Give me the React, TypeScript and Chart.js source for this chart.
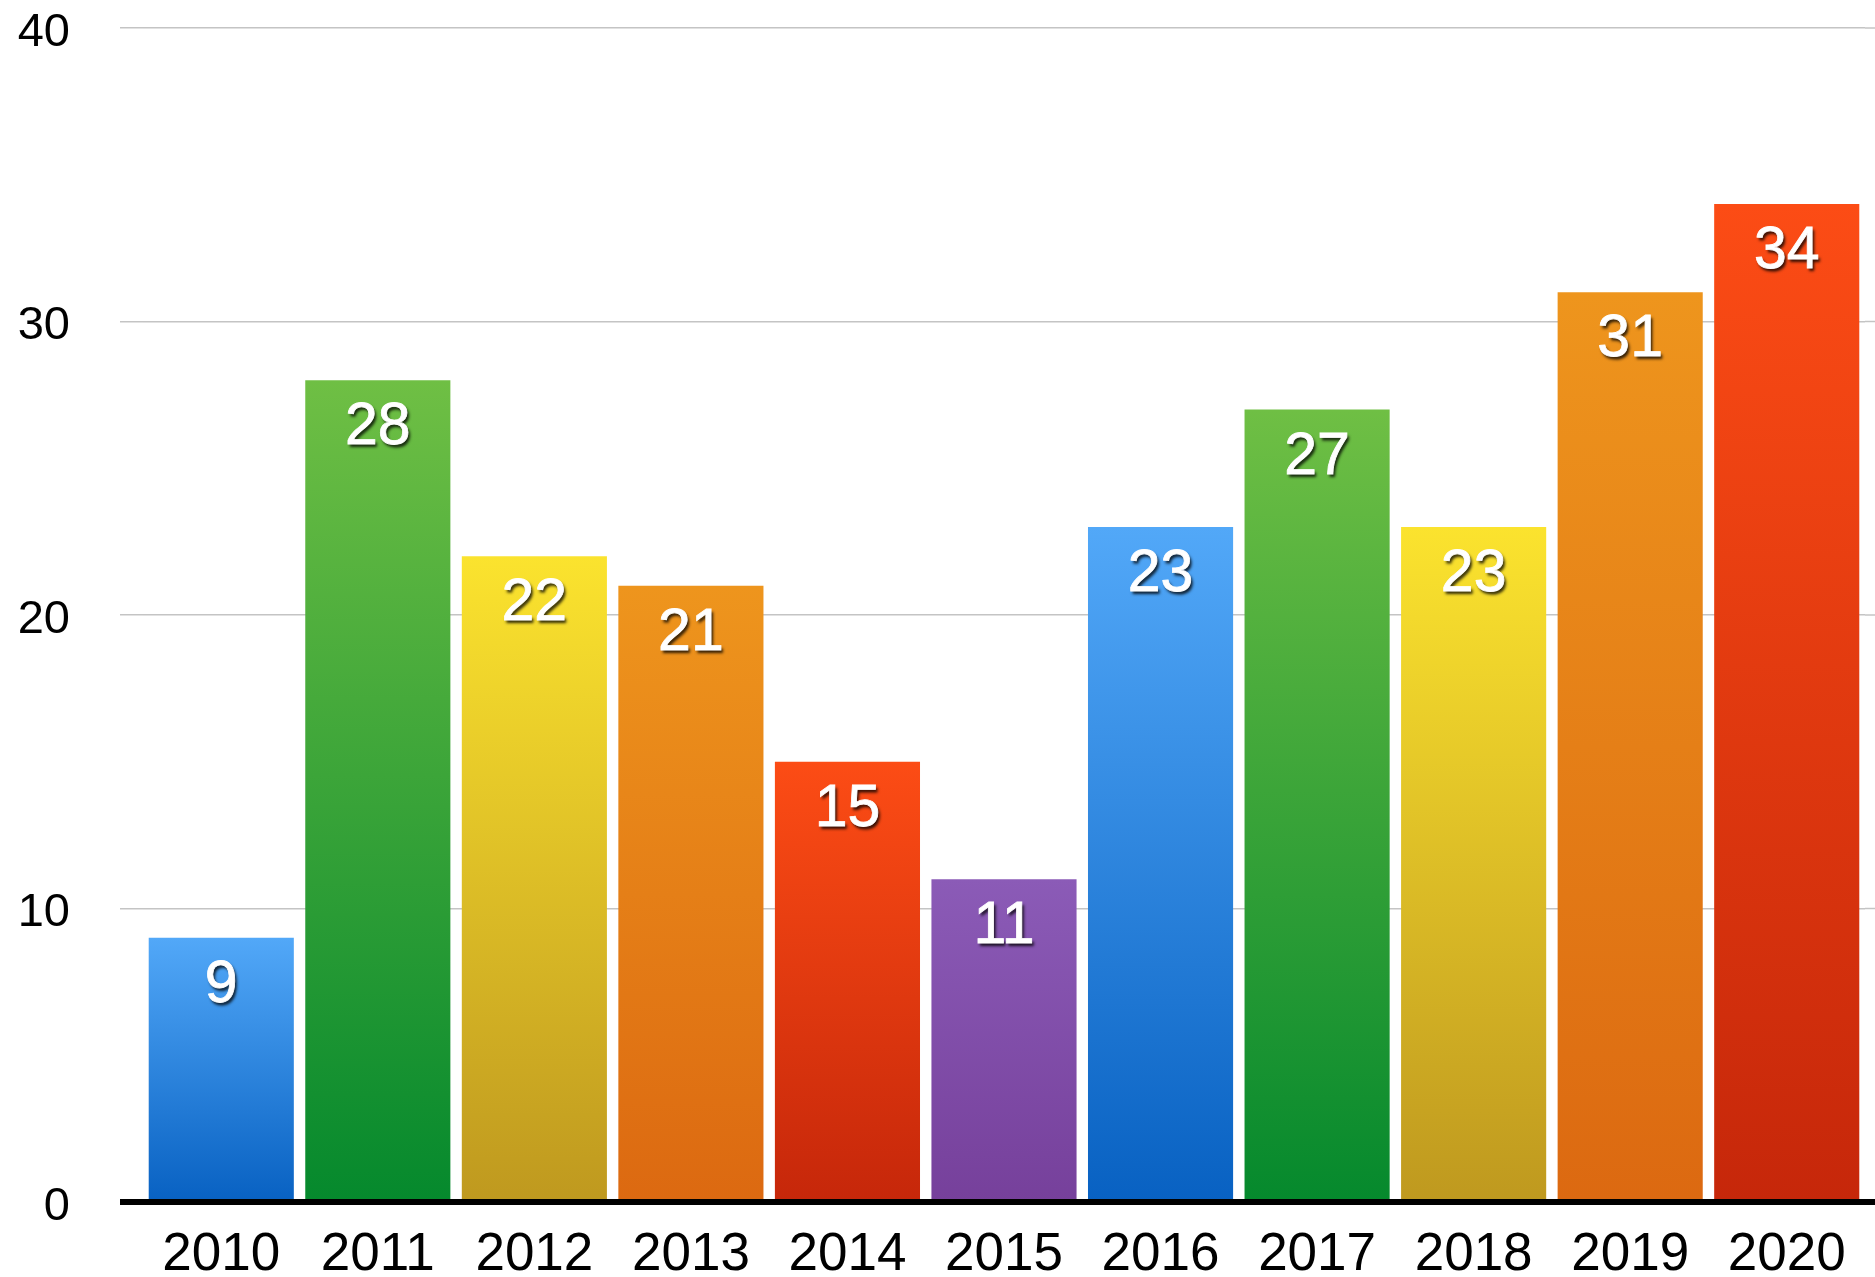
import React, { useEffect, useRef } from "react";
import { Chart, registerables } from "chart.js";

Chart.register(...registerables);

const years = ["2010", "2011", "2012", "2013", "2014", "2015", "2016", "2017", "2018", "2019", "2020"];
const values = [9, 28, 22, 21, 15, 11, 23, 27, 23, 31, 34];
const yTicks = [0, 10, 20, 30, 40];

const topColors = ["#52a8f8", "#6fbf44", "#fbe32e", "#ee951d", "#fc4c15", "#8b5bb7", "#52a8f8", "#6fbf44", "#fbe32e", "#ee951d", "#fc4c15"];
const bottomColors = ["#0861c2", "#05892d", "#bf991f", "#dc6911", "#c6270a", "#76409b", "#0861c2", "#05892d", "#bf991f", "#dc6911", "#c6270a"];

const FONT = '"Liberation Sans", Arial, Helvetica, sans-serif';
const GRID = "#c4c4c4";

export default function App() {
  const ref = useRef<HTMLCanvasElement>(null);

  useEffect(() => {
    document.body.style.margin = "0";
    const canvas = ref.current!;

    const extras = {
      id: "extras",
      beforeDatasetsDraw(chart: any) {
        const y = chart.scales.y;
        const ctx = chart.ctx;
        ctx.save();
        ctx.strokeStyle = GRID;
        ctx.lineWidth = 1.5;
        for (const t of yTicks) {
          if (t === 0) continue;
          const py = y.getPixelForValue(t);
          ctx.beginPath();
          ctx.moveTo(chart.chartArea.right, py);
          ctx.lineTo(chart.width, py);
          ctx.stroke();
        }
        ctx.restore();
      },
      afterDatasetsDraw(chart: any) {
        const y = chart.scales.y;
        const ctx = chart.ctx;
        ctx.save();
        const py0 = y.getPixelForValue(0);
        ctx.fillStyle = "#000";
        ctx.fillRect(chart.chartArea.left - 23, py0 - 3, chart.width - (chart.chartArea.left - 23), 6);
        const meta = chart.getDatasetMeta(0);
        ctx.font = `59px ${FONT}`;
        ctx.textAlign = "center";
        ctx.textBaseline = "alphabetic";
        ctx.shadowColor = "rgba(0,0,0,0.8)";
        ctx.shadowOffsetX = 2;
        ctx.shadowOffsetY = 3;
        ctx.shadowBlur = 3;
        ctx.fillStyle = "#fff";
        ctx.strokeStyle = "#fff";
        ctx.lineWidth = 0.8;
        meta.data.forEach((bar: any, i: number) => {
          ctx.fillText(String(values[i]), bar.x, bar.y + 64);
        });
        ctx.shadowColor = "rgba(0,0,0,0)";
        meta.data.forEach((bar: any, i: number) => {
          ctx.strokeText(String(values[i]), bar.x, bar.y + 64);
        });
        ctx.restore();
      },
    };

    const chart = new Chart(canvas, {
      type: "bar",
      data: {
        labels: years,
        datasets: [
          {
            data: values,
            backgroundColor: (c: any) => {
              const chartObj = c.chart;
              const i = c.dataIndex;
              if (!chartObj.chartArea || i === undefined) return topColors[i ?? 0];
              const ys = chartObj.scales.y;
              const top = ys.getPixelForValue(values[i]);
              const bottom = ys.getPixelForValue(0);
              const g = chartObj.ctx.createLinearGradient(0, top, 0, bottom);
              g.addColorStop(0, topColors[i]);
              g.addColorStop(1, bottomColors[i]);
              return g;
            },
            borderWidth: 0,
            categoryPercentage: 1,
            barPercentage: 0.927,
          },
        ],
      },
      options: {
        responsive: false,
        animation: false,
        devicePixelRatio: 1,
        layout: { padding: { top: 28, right: 10, left: 0, bottom: 0 } },
        plugins: {
          legend: { display: false },
          tooltip: { enabled: false },
          title: { display: false },
        },
        scales: {
          x: {
            grid: { display: false },
            border: { display: false },
            ticks: {
              font: { family: FONT, size: 53 },
              color: "#000",
              padding: 14,
              maxRotation: 0,
              autoSkip: false,
            },
            afterFit: (s: any) => {
              s.height = 75;
              s.paddingLeft = 0;
              s.paddingRight = 0;
            },
          },
          y: {
            min: 0,
            max: 40,
            grid: { color: GRID, lineWidth: 1.5, tickLength: 23, drawTicks: true },
            border: { display: false },
            ticks: {
              stepSize: 10,
              font: { family: FONT, size: 47 },
              color: "#000",
              padding: 50,
              labelOffset: 5,
            },
            afterFit: (s: any) => {
              s.width = 143;
              s.paddingTop = 0;
              s.paddingBottom = 0;
            },
          },
        },
      },
      plugins: [extras],
    });

    return () => chart.destroy();
  }, []);

  return (
    <div style={{ width: 1875, height: 1277 }}>
      <canvas ref={ref} width={1875} height={1277} style={{ display: "block" }} />
    </div>
  );
}
